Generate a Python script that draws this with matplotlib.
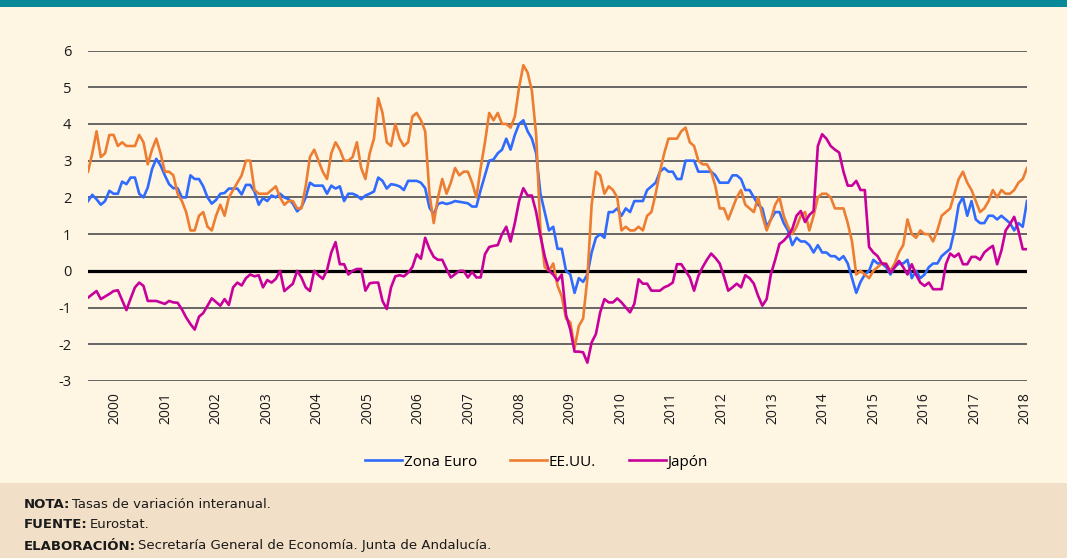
import numpy as np
import matplotlib
matplotlib.use("Agg")
import matplotlib.pyplot as plt
from matplotlib.patches import Rectangle

plt.rcParams["axes.unicode_minus"] = False

# --- Data: year-on-year CPI rates, monthly Jan 2000 - May 2018 ---
zona_euro = [
    1.9, 2.07, 1.95, 1.8, 1.9, 2.18, 2.1, 2.1, 2.43, 2.36, 2.54, 2.54,      # 2000
    2.1, 2.0, 2.27, 2.77, 3.05, 2.87, 2.6, 2.36, 2.25, 2.25, 2.0, 2.0,      # 2001
    2.6, 2.5, 2.5, 2.3, 2.0, 1.83, 1.93, 2.1, 2.12, 2.24, 2.24, 2.24,       # 2002
    2.08, 2.34, 2.34, 2.16, 1.8, 1.98, 1.9, 2.05, 2.0, 2.1, 2.0, 1.95,      # 2003
    1.83, 1.62, 1.73, 2.0, 2.4, 2.32, 2.32, 2.32, 2.1, 2.32, 2.24, 2.3,     # 2004
    1.9, 2.1, 2.1, 2.05, 1.95, 2.05, 2.1, 2.16, 2.54, 2.45, 2.24, 2.36,     # 2005
    2.34, 2.3, 2.2, 2.45, 2.45, 2.45, 2.4, 2.25, 1.72, 1.54, 1.82, 1.86,    # 2006
    1.82, 1.85, 1.9, 1.88, 1.86, 1.84, 1.75, 1.75, 2.2, 2.6, 3.0, 3.03,     # 2007
    3.2, 3.3, 3.6, 3.3, 3.7, 4.0, 4.1, 3.8, 3.6, 3.2, 2.1, 1.6,             # 2008
    1.1, 1.2, 0.6, 0.6, 0.0, -0.1, -0.6, -0.2, -0.3, -0.1, 0.5, 0.9,        # 2009
    1.0, 0.9, 1.6, 1.6, 1.7, 1.5, 1.7, 1.6, 1.9, 1.9, 1.9, 2.2,             # 2010
    2.3, 2.4, 2.7, 2.8, 2.7, 2.7, 2.5, 2.5, 3.0, 3.0, 3.0, 2.7,             # 2011
    2.7, 2.7, 2.7, 2.6, 2.4, 2.4, 2.4, 2.6, 2.6, 2.5, 2.2, 2.2,             # 2012
    2.0, 1.8, 1.7, 1.2, 1.4, 1.6, 1.6, 1.3, 1.1, 0.7, 0.9, 0.8,             # 2013
    0.8, 0.7, 0.5, 0.7, 0.5, 0.5, 0.4, 0.4, 0.3, 0.4, 0.2, -0.2,            # 2014
    -0.6, -0.3, -0.1, 0.0, 0.3, 0.2, 0.2, 0.1, -0.1, 0.1, 0.2, 0.2,         # 2015
    0.3, -0.2, 0.0, -0.2, -0.1, 0.1, 0.2, 0.2, 0.4, 0.5, 0.6, 1.1,          # 2016
    1.8, 2.0, 1.5, 1.9, 1.4, 1.3, 1.3, 1.5, 1.5, 1.4, 1.5, 1.4,             # 2017
    1.3, 1.1, 1.3, 1.2, 1.9,                                                # 2018
]

ee_uu = [
    2.7, 3.2, 3.8, 3.1, 3.2, 3.7, 3.7, 3.4, 3.5, 3.4, 3.4, 3.4,
    3.7, 3.5, 2.9, 3.3, 3.6, 3.2, 2.7, 2.7, 2.6, 2.1, 1.9, 1.6,
    1.1, 1.1, 1.5, 1.6, 1.2, 1.1, 1.5, 1.8, 1.5, 2.0, 2.2, 2.4,
    2.6, 3.0, 3.0, 2.2, 2.1, 2.1, 2.1, 2.2, 2.3, 2.0, 1.8, 1.9,
    1.9, 1.7, 1.7, 2.3, 3.1, 3.3, 3.0, 2.7, 2.5, 3.2, 3.5, 3.3,
    3.0, 3.0, 3.1, 3.5, 2.8, 2.5, 3.2, 3.6, 4.7, 4.3, 3.5, 3.4,
    4.0, 3.6, 3.4, 3.5, 4.2, 4.3, 4.1, 3.8, 2.1, 1.3, 2.0, 2.5,
    2.1, 2.4, 2.8, 2.6, 2.7, 2.7, 2.4, 2.0, 2.8, 3.5, 4.3, 4.1,
    4.3, 4.0, 4.0, 3.9, 4.2, 5.0, 5.6, 5.4, 4.9, 3.7, 1.1, 0.1,
    0.0, 0.2, -0.4, -0.7, -1.3, -1.4, -2.1, -1.5, -1.3, -0.2, 1.8, 2.7,
    2.6, 2.1, 2.3, 2.2, 2.0, 1.1, 1.2, 1.1, 1.1, 1.2, 1.1, 1.5,
    1.6, 2.1, 2.7, 3.2, 3.6, 3.6, 3.6, 3.8, 3.9, 3.5, 3.4, 3.0,
    2.9, 2.9, 2.7, 2.3, 1.7, 1.7, 1.4, 1.7, 2.0, 2.2, 1.8, 1.7,
    1.6, 2.0, 1.5, 1.1, 1.4, 1.8, 2.0, 1.5, 1.2, 1.0, 1.2, 1.5,
    1.6, 1.1, 1.5, 2.0, 2.1, 2.1, 2.0, 1.7, 1.7, 1.7, 1.3, 0.8,
    -0.1, 0.0, -0.1, -0.2, 0.0, 0.1, 0.2, 0.2, 0.0, 0.2, 0.5, 0.7,
    1.4, 1.0, 0.9, 1.1, 1.0, 1.0, 0.8, 1.1, 1.5, 1.6, 1.7, 2.1,
    2.5, 2.7, 2.4, 2.2, 1.9, 1.6, 1.7, 1.9, 2.2, 2.0, 2.2, 2.1,
    2.1, 2.2, 2.4, 2.5, 2.8,
]

japon = [
    -0.73, -0.64, -0.55, -0.77, -0.7, -0.63, -0.55, -0.53, -0.8, -1.07, -0.75, -0.45,
    -0.32, -0.41, -0.82, -0.82, -0.82, -0.86, -0.9, -0.82, -0.86, -0.87, -1.05, -1.27,
    -1.45, -1.6, -1.25, -1.15, -0.95, -0.75, -0.85, -0.95, -0.77, -0.93, -0.45, -0.32,
    -0.4, -0.2, -0.1, -0.15, -0.12, -0.45, -0.25, -0.32, -0.22, 0.0, -0.55, -0.45,
    -0.35, 0.0, -0.18, -0.45, -0.55, 0.0, -0.12, -0.22, 0.02, 0.5, 0.78, 0.18,
    0.18, -0.1, 0.0, 0.05, 0.05, -0.54, -0.34, -0.32, -0.32, -0.82, -1.04, -0.45,
    -0.15, -0.12, -0.15, -0.05, 0.1, 0.45, 0.33, 0.9, 0.6, 0.38, 0.3, 0.3,
    0.05, -0.18, -0.09, 0.0, 0.0, -0.18, -0.03, -0.18, -0.18, 0.45, 0.65, 0.68,
    0.7, 1.0, 1.2, 0.8, 1.3, 1.9, 2.25, 2.05, 2.05, 1.6, 0.95, 0.4,
    0.0, -0.1, -0.27, -0.1, -1.2, -1.6, -2.2, -2.2, -2.22, -2.5, -1.95, -1.72,
    -1.13, -0.77, -0.86, -0.86, -0.75, -0.86, -1.0, -1.13, -0.9, -0.23, -0.35, -0.35,
    -0.54, -0.54, -0.54, -0.45, -0.4, -0.32, 0.18, 0.18, 0.0, -0.18, -0.54, -0.14,
    0.1, 0.3, 0.47, 0.35, 0.2, -0.15, -0.54, -0.45, -0.35, -0.45, -0.12, -0.2,
    -0.35, -0.68, -0.95, -0.77, -0.09, 0.3, 0.73, 0.82, 0.95, 1.14, 1.5, 1.63,
    1.33, 1.52, 1.63, 3.4, 3.72, 3.6, 3.4, 3.3, 3.22, 2.7, 2.32, 2.32,
    2.45, 2.2, 2.2, 0.65, 0.5, 0.4, 0.2, 0.18, -0.05, 0.1, 0.27, 0.1,
    -0.1, 0.18, -0.1, -0.32, -0.41, -0.32, -0.5, -0.5, -0.5, 0.18, 0.47, 0.38,
    0.47, 0.18, 0.18, 0.38, 0.38, 0.3, 0.5, 0.6, 0.68, 0.18, 0.55, 1.1,
    1.27, 1.47, 1.09, 0.59, 0.59,
]

years = [str(y) for y in range(2000, 2019)]
series_names = ["Zona Euro", "EE.UU.", "Japón"]
series_colors = ["#2F6BFF", "#ED7D31", "#C8009B"]

W, H = 1067, 558
BG = "#FEF5E3"
FOOT = "#F2DFC7"
TEAL = "#07899A"

fig = plt.figure(figsize=(W / 100, H / 100), dpi=100)
fig.patch.set_facecolor(BG)

# header band and footer panel
fig.add_artist(Rectangle((0, 1 - 7 / H), 1, 7 / H, transform=fig.transFigure,
                         color=TEAL, lw=0))
fig.add_artist(Rectangle((0, 0), 1, 75 / H, transform=fig.transFigure,
                         color=FOOT, lw=0))

ax = fig.add_axes([88 / W, 1 - 381 / H, 939 / W, 330.5 / H])
ax.set_facecolor("none")

n = len(zona_euro)
idx = np.arange(n)
for vals, name, col in zip([zona_euro, ee_uu, japon], series_names, series_colors):
    ax.plot(idx[:len(vals)], vals, color=col, lw=1.9, label=name,
            solid_joinstyle="round", zorder=3)

ax.set_xlim(0, n - 1)
ax.set_ylim(-3, 6)
ax.set_yticks(range(-3, 7))
ax.yaxis.grid(True, color="#5B5B5B", lw=1.3)
ax.set_axisbelow(True)
ax.axhline(0, color="black", lw=2.3, zorder=2)
for s in ax.spines.values():
    s.set_visible(False)

tick_pos = np.linspace(6.3, 219.6, len(years))
ax.set_xticks(tick_pos)
ax.set_xticklabels(years, rotation=90, fontsize=10, family="Open Sans",
                   color="#1a1a1a")
ax.tick_params(axis="both", length=0)
ax.tick_params(axis="x", pad=8)
ax.tick_params(axis="y", pad=12)
for lab in ax.get_yticklabels():
    lab.set_fontsize(10.5)
    lab.set_family("Open Sans")
    lab.set_color("#1a1a1a")

handles, labels = ax.get_legend_handles_labels()
fig.legend(handles, labels, loc="center", bbox_to_anchor=(0.503, 1 - 462 / H),
           ncol=3, frameon=False, handlelength=2.4, handletextpad=0.1,
           columnspacing=2.2, prop={"family": "Open Sans", "size": 11})

# footer notes: bold label followed by regular text
notes = [
    ("NOTA:", "Tasas de variación interanual.", 505),
    ("FUENTE:", "Eurostat.", 525),
    ("ELABORACIÓN:", "Secretaría General de Economía. Junta de Andalucía.", 546),
]
fig.canvas.draw()
renderer = fig.canvas.get_renderer()
for bold, rest, ypx in notes:
    t = fig.text(24 / W, 1 - ypx / H, bold, fontsize=9.5, fontweight="bold",
                 family="DejaVu Sans", va="center", ha="left", color="#1a1a1a")
    bb = t.get_window_extent(renderer=renderer)
    fig.text((bb.x1 + 2) / W, 1 - ypx / H, rest, fontsize=9.5,
             family="DejaVu Sans", va="center", ha="left", color="#1a1a1a")

fig.savefig("out.png", dpi=100, facecolor=fig.get_facecolor())
